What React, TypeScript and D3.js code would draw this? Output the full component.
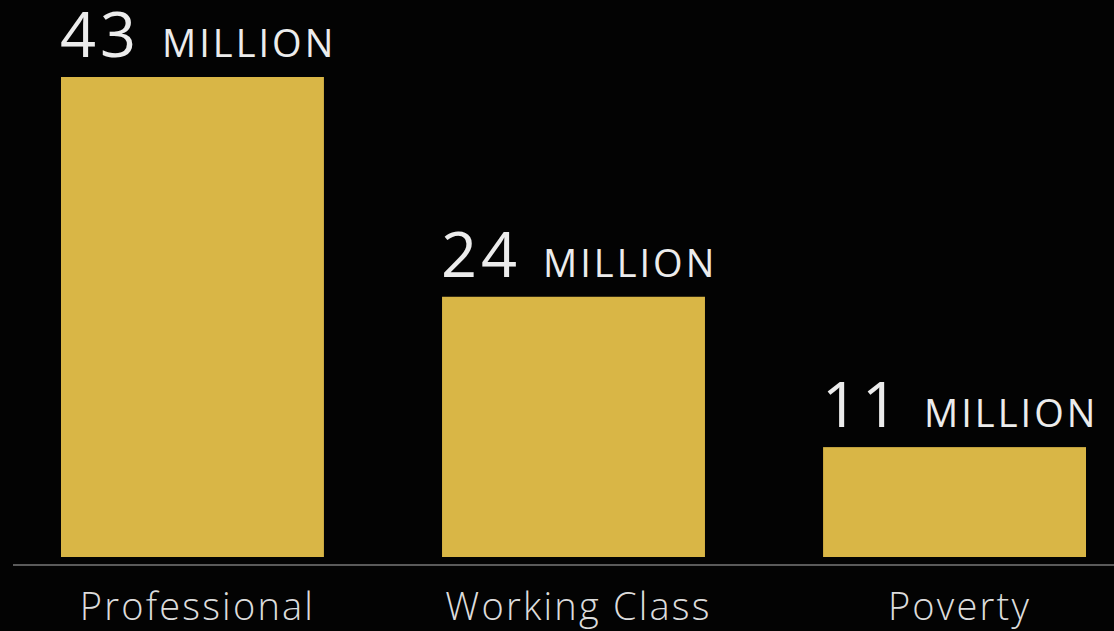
import React from "react";
import * as d3 from "d3";

const categories = ["Professional", "Working Class", "Poverty"];
const values = [43, 24, 11];
const unitLabel = "MILLION";

const W = 1114;
const H = 631;

export default function App() {
  const x = d3.scaleBand<string>().domain(categories).range([61, 1086]).paddingInner(0.31).paddingOuter(0);
  const y = d3.scaleLinear().domain([1.5, 43]).range([557, 77]);
  const font = "'Open Sans', 'Noto Sans', sans-serif";
  return (
    <svg width={W} height={H} style={{ position: "absolute", left: 0, top: 0, background: "#030303" }}>
      <rect x={0} y={0} width={W} height={H} fill="#030303" />
      {categories.map((c, i) => {
        const x0 = x(c)!;
        const top = y(values[i]);
        return (
          <g key={c}>
            <rect x={x0} y={top} width={x.bandwidth()} height={y.range()[0] - top} fill="#d9b646" />
            <text y={top - 20} fill="#ececec" fontFamily={font} fontWeight={400}>
              <tspan x={x0 - 1} fontSize={63} letterSpacing={4}>{values[i]}</tspan>
              <tspan x={x0 + 101} fontSize={38} letterSpacing={3}>{unitLabel}</tspan>
            </text>
            <text x={x0 + x.bandwidth() / 2 + 5} y={620} textAnchor="middle" fill="#dcdcdc" fontFamily={font} fontSize={38} fontWeight={300} letterSpacing={2.2}>
              {c}
            </text>
          </g>
        );
      })}
      <line x1={13} x2={W} y1={565} y2={565} stroke="#5a5a5a" strokeWidth={2} />
    </svg>
  );
}
